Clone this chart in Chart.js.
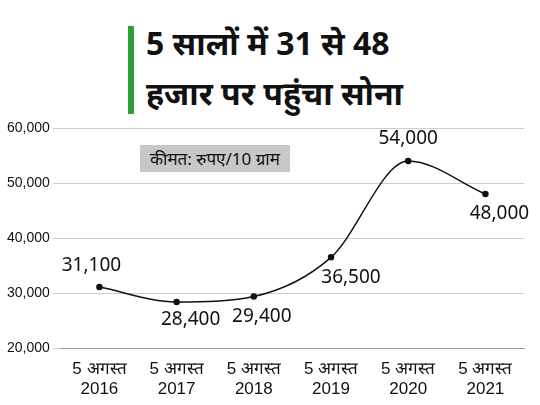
<!DOCTYPE html>
<html><head><meta charset="utf-8">
<script src="https://cdn.jsdelivr.net/npm/chart.js@4"></script>
<style>
body{margin:0;background:#fff;font-family:"Noto Sans","Noto Sans Devanagari",sans-serif}
#wrap{position:relative;width:540px;height:405px}
#bar{position:absolute;left:128px;top:26px;width:6px;height:88px;background:#2e9e3e}
#title{position:absolute;left:146px;top:18px;font-size:32px;font-weight:bold;line-height:50px;color:#111}
#note{position:absolute;left:140px;top:145px;padding:2px 10px;background:#c8c8c8;font-size:17px;color:#111}
canvas{position:absolute;left:0;top:0}
</style></head><body>
<div id="wrap"><div id="bar"></div><div id="title">5 सालों में 31 से 48<br>हजार पर पहुंचा सोना</div>
<canvas id="c" width="540" height="405"></canvas><div id="note">कीमत: रुपए/10 ग्राम</div></div>
<script>
const categories=[["5 अगस्त","2016"],["5 अगस्त","2017"],["5 अगस्त","2018"],["5 अगस्त","2019"],["5 अगस्त","2020"],["5 अगस्त","2021"]];
const prices=[31100,28400,29400,36500,54000,48000];
const labels=["31,100","28,400","29,400","36,500","54,000","48,000"];
const offs=[[-8,-22],[14,18],[8,20],[20,20],[0,-22],[14,20]];
const lbl={id:'lbl',afterDatasetsDraw(ch){const c=ch.ctx;c.save();c.font='19px "Noto Sans",sans-serif';c.fillStyle='#111';c.textAlign='center';c.textBaseline='middle';
ch.getDatasetMeta(0).data.forEach((p,i)=>c.fillText(labels[i],p.x+offs[i][0],p.y+offs[i][1]));c.restore();}};
new Chart(document.getElementById('c'),{type:'line',data:{labels:categories,datasets:[{data:prices,borderColor:'#111',borderWidth:1.5,pointRadius:2.5,pointBackgroundColor:'#111',tension:0.4,cubicInterpolationMode:'monotone'}]},
options:{responsive:false,animation:false,layout:{padding:{top:128,right:16,left:4,bottom:2}},plugins:{legend:{display:false},tooltip:{enabled:false}},
scales:{x:{offset:true,grid:{display:false},border:{color:'#999'},ticks:{color:'#111',font:{size:17},maxRotation:0}},
y:{min:20000,max:60000,ticks:{stepSize:10000,color:'#111',font:{size:14}},grid:{color:'#ccc'},border:{display:false}}}},plugins:[lbl]});
</script></body></html>
